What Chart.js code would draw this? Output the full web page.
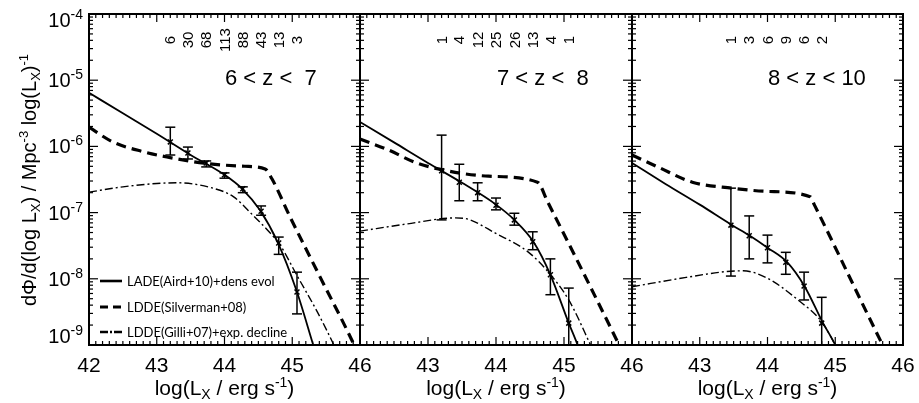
<!DOCTYPE html>
<html>
<head>
<meta charset="utf-8">
<script src="https://cdn.jsdelivr.net/npm/chart.js@4.4.1/dist/chart.umd.min.js"></script>
<style>
  html, body { margin: 0; padding: 0; background: #fff; }
  #wrap { position: relative; width: 919px; height: 403px; }
  #wrap canvas { position: absolute; left: 0; top: 0; }
</style>
</head>
<body>
<div id="wrap">
  <canvas id="p1" width="919" height="403"></canvas>
  <canvas id="p2" width="919" height="403"></canvas>
  <canvas id="p3" width="919" height="403"></canvas>
</div>
<script>
// axis ticks
const xTicks = [42, 43, 44, 45, 46];
const yTicks = [1e-4, 1e-5, 1e-6, 1e-7, 1e-8, 1e-9];

// bin centres, log(Lx)
const binsA = [43.2, 43.46, 43.73, 44.0, 44.27, 44.54, 44.8, 45.07];
const binsB = [43.46, 43.73, 44.0, 44.27, 44.54, 44.8];

// ---- 6 < z < 7 ----
const countsZ6 = [6, 30, 68, 113, 88, 43, 13, 3];
const phiZ6 = [1.17e-6, 7.94e-7, 5.62e-7, 3.72e-7, 2.29e-7, 1.05e-7, 3.47e-8, 6.31e-9];
const loZ6  = [7.41e-7, 6.46e-7, 4.90e-7, 3.31e-7, 2.0e-7, 9.12e-8, 2.34e-8, 2.95e-9];
const hiZ6  = [1.95e-6, 9.77e-7, 6.03e-7, 3.98e-7, 2.45e-7, 1.26e-7, 4.27e-8, 1.26e-8];

const ladeXZ6 = [42.0, 42.5, 43.0, 43.5, 44.0, 44.26, 44.52, 44.79, 45.06, 45.31, 45.4];
const ladeYZ6 = [6.46e-6, 3.16e-6, 1.55e-6, 7.41e-7, 3.72e-7, 2.29e-7, 1.10e-7, 3.47e-8, 6.76e-9, 1.0e-9, 5.0e-10];
const silvXZ6 = [42.0, 42.35, 42.8, 43.15, 43.74, 44.3, 44.6, 44.7, 44.97, 45.41, 45.9, 46.0];
const silvYZ6 = [1.95e-6, 1.17e-6, 8.32e-7, 6.92e-7, 5.50e-7, 5.01e-7, 4.57e-7, 3.24e-7, 8.51e-8, 1.07e-8, 1.07e-9, 6.3e-10];
const gilliXZ6 = [42.0, 42.5, 43.0, 43.3, 43.83, 44.13, 44.42, 44.63, 44.82, 45.07, 45.37, 45.6, 45.7];
const gilliYZ6 = [2.04e-7, 2.45e-7, 2.75e-7, 2.82e-7, 2.34e-7, 1.74e-7, 9.12e-8, 5.50e-8, 3.24e-8, 1.12e-8, 3.16e-9, 1.07e-9, 6.3e-10];

// ---- 7 < z < 8 ----
const countsZ7 = [1, 4, 12, 25, 26, 13, 4, 1];
const phiZ7 = [4.27e-7, 2.88e-7, 2.0e-7, 1.29e-7, 7.76e-8, 3.63e-8, 1.15e-8, 2.14e-9];
const loZ7  = [7.76e-8, 1.51e-7, 1.51e-7, 1.10e-7, 6.46e-8, 2.75e-8, 5.75e-9, 4.0e-10];
const hiZ7  = [1.48e-6, 5.37e-7, 2.82e-7, 1.66e-7, 9.77e-8, 5.13e-8, 2.0e-8, 7.24e-9];

const ladeXZ7 = [42.0, 42.5, 43.0, 43.5, 44.0, 44.27, 44.55, 44.8, 45.07, 45.2, 45.3];
const ladeYZ7 = [2.34e-6, 1.15e-6, 5.62e-7, 2.82e-7, 1.32e-7, 7.76e-8, 3.63e-8, 1.15e-8, 2.14e-9, 1.0e-9, 5.0e-10];
const silvXZ7 = [42.0, 42.41, 42.81, 43.15, 43.89, 44.61, 44.76, 45.81, 45.95];
const silvYZ7 = [1.29e-6, 8.91e-7, 5.75e-7, 4.57e-7, 3.55e-7, 2.88e-7, 1.45e-7, 1.0e-9, 5.0e-10];
const gilliXZ7 = [42.0, 42.7, 43.4, 43.59, 43.99, 44.48, 44.77, 45.07, 45.39, 45.5];
const gilliYZ7 = [5.25e-8, 6.76e-8, 8.32e-8, 7.94e-8, 4.90e-8, 2.51e-8, 1.26e-8, 4.79e-9, 1.0e-9, 5.62e-10];

// ---- 8 < z < 10 ----
const countsZ8 = [1, 3, 6, 9, 6, 2];
const phiZ8 = [6.46e-8, 4.47e-8, 2.95e-8, 1.78e-8, 7.76e-9, 2.14e-9];
const loZ8  = [1.10e-8, 2.0e-8, 1.74e-8, 1.17e-8, 4.79e-9, 4.0e-10];
const hiZ8  = [2.34e-7, 8.91e-8, 4.57e-8, 2.51e-8, 1.26e-8, 5.25e-9];

const ladeXZ8 = [42.0, 42.5, 43.0, 43.48, 43.74, 44.0, 44.29, 44.55, 44.82, 45.0, 45.1];
const ladeYZ8 = [5.62e-7, 2.69e-7, 1.32e-7, 6.46e-8, 4.47e-8, 2.95e-8, 1.78e-8, 7.59e-9, 2.14e-9, 1.0e-9, 5.62e-10];
const silvXZ8 = [42.0, 42.38, 42.89, 43.48, 44.0, 44.63, 44.69, 45.7, 45.85];
const silvYZ8 = [7.41e-7, 4.90e-7, 2.88e-7, 2.34e-7, 2.09e-7, 1.74e-7, 1.32e-7, 1.0e-9, 5.0e-10];
const gilliXZ8 = [42.0, 42.8, 43.4, 43.64, 44.0, 44.45, 44.8, 45.0, 45.1];
const gilliYZ8 = [7.59e-9, 1.05e-8, 1.29e-8, 1.32e-8, 1.02e-8, 4.79e-9, 2.24e-9, 1.0e-9, 6.3e-10];

const legendLabels = ['LADE(Aird+10)+dens evol', 'LDDE(Silverman+08)', 'LDDE(Gilli+07)+exp. decline'];

const FONT = '"Liberation Sans", Arial, sans-serif';
const LEG_FONT = 'Lato, "Open Sans", sans-serif';

const STYLE_LADE  = { borderWidth: 1.8, borderDash: [] };
const STYLE_SILV  = { borderWidth: 3.2, borderDash: [10, 6] };
const STYLE_GILLI = { borderWidth: 1.4, borderDash: [8, 3, 2, 3] };

function pts(xs, ys) {
    return xs.map((x, i) => ({ x: x, y: ys[i] }));
}

function curve(xs, ys, style) {
    return {
        data: pts(xs, ys),
        borderColor: '#000',
        borderWidth: style.borderWidth,
        borderDash: style.borderDash,
        pointRadius: 0,
        fill: false,
        cubicInterpolationMode: 'monotone'
    };
}

// text made of pieces: [text, size, dy]
function richText(ctx, parts, x, y, align) {
    let w = 0;
    parts.forEach(p => {
        ctx.font = p[1] + 'px ' + FONT;
        w += ctx.measureText(p[0]).width;
    });
    let cx = align === 'center' ? x - w / 2 : (align === 'right' ? x - w : x);
    parts.forEach(p => {
        ctx.font = p[1] + 'px ' + FONT;
        ctx.fillText(p[0], cx, y + p[2]);
        cx += ctx.measureText(p[0]).width;
    });
}

function seg(ctx, x1, y1, x2, y2) {
    ctx.beginPath();
    ctx.moveTo(x1, y1);
    ctx.lineTo(x2, y2);
    ctx.stroke();
}

function makePanel(id, p) {
    const decoPlugin = {
        id: 'deco_' + id,
        afterDatasetsDraw(chart) {
            const ctx = chart.ctx, a = chart.chartArea;
            const xs = chart.scales.x, ys = chart.scales.y;
            ctx.save();
            // error bars
            ctx.beginPath();
            ctx.rect(a.left, a.top, a.width, a.height);
            ctx.clip();
            ctx.strokeStyle = '#000';
            ctx.lineWidth = 1.5;
            p.bins.forEach((b, i) => {
                const px = xs.getPixelForValue(b);
                const y1 = ys.getPixelForValue(p.lo[i]);
                const y2 = ys.getPixelForValue(p.hi[i]);
                seg(ctx, px, y1, px, y2);
                seg(ctx, px - 5, y1, px + 5, y1);
                seg(ctx, px - 5, y2, px + 5, y2);
            });
            ctx.restore();
        },
        afterDraw(chart) {
            const ctx = chart.ctx, a = chart.chartArea;
            const xs = chart.scales.x, ys = chart.scales.y;
            ctx.save();
            ctx.strokeStyle = '#000';
            ctx.fillStyle = '#000';
            ctx.lineWidth = 1.2;
            // x ticks, top and bottom, minor every 0.1
            for (let k = xTicks[0] * 10; k <= xTicks[xTicks.length - 1] * 10; k++) {
                const px = xs.getPixelForValue(k / 10);
                const len = k % 10 === 0 ? 8 : 4;
                seg(ctx, px, a.bottom, px, a.bottom - len);
                seg(ctx, px, a.top, px, a.top + len);
            }
            // y ticks, left and right, log minors
            yTicks.forEach(t => {
                for (let m = 1; m < 10; m++) {
                    const v = t * m;
                    if (v > yTicks[0] * 1.0001) continue;
                    const py = ys.getPixelForValue(v);
                    const len = m === 1 ? 9 : 4;
                    seg(ctx, a.left, py, a.left + len, py);
                    seg(ctx, a.right, py, a.right - len, py);
                }
            });
            // frame
            ctx.lineWidth = 2;
            ctx.strokeRect(a.left, a.top, a.width, a.height);

            // x tick labels
            ctx.textBaseline = 'alphabetic';
            xTicks.forEach(t => {
                if (!p.first && t === xTicks[0]) return;
                richText(ctx, [[String(t), 21, 0]], xs.getPixelForValue(t), 372, 'center');
            });
            // x title
            richText(ctx, [['log(L', 21, 0], ['X', 14, 4], [' / erg s', 21, 0], ['-1', 14, -8], [')', 21, 0]],
                (a.left + a.right) / 2, 395, 'center');

            // redshift label
            ctx.font = '22px ' + FONT;
            ctx.textAlign = 'left';
            ctx.fillText(p.label, a.left + p.labelOffset, 85);

            // counts per bin, rotated
            ctx.font = '15px ' + FONT;
            ctx.textAlign = 'center';
            ctx.textBaseline = 'middle';
            p.counts.forEach((c, i) => {
                ctx.save();
                ctx.translate(xs.getPixelForValue(p.bins[i]), 40);
                ctx.rotate(-Math.PI / 2);
                ctx.fillText(String(c), 0, 1);
                ctx.restore();
            });

            if (p.first) {
                // y tick labels
                ctx.textAlign = 'left';
                ctx.textBaseline = 'alphabetic';
                yTicks.forEach(t => {
                    const e = Math.round(Math.log10(t));
                    let cy = ys.getPixelForValue(t);
                    cy = Math.min(Math.max(cy, a.top + 6), a.bottom - 9);
                    richText(ctx, [['10', 20, 0], [String(e), 14, -8]], 83, cy + 7, 'right');
                });
                // y title
                ctx.save();
                ctx.translate(36, 180);
                ctx.rotate(-Math.PI / 2);
                richText(ctx, [['d\u03A6/d(log L', 20, 0], ['X', 13, 4], [') / Mpc', 20, 0], ['-3', 13, -8],
                    [' log(L', 20, 0], ['X', 13, 4], [')', 20, 0], ['-1', 13, -8]], 0, 0, 'center');
                ctx.restore();

                // legend
                const legY = [281, 307, 332];
                const legDash = [[], [8, 5], [8, 2, 2, 2]];
                ctx.font = '13px ' + LEG_FONT;
                ctx.textAlign = 'left';
                ctx.textBaseline = 'middle';
                legendLabels.forEach((txt, i) => {
                    ctx.lineWidth = i === 1 ? 3.2 : 2.6;
                    ctx.setLineDash(legDash[i]);
                    seg(ctx, 100, legY[i], 122, legY[i]);
                    ctx.setLineDash([]);
                    ctx.fillText(txt, 127, legY[i] + 1);
                });
            }
            ctx.restore();
        }
    };

    return new Chart(document.getElementById(id), {
        type: 'line',
        data: {
            datasets: [
                curve(p.lade[0], p.lade[1], STYLE_LADE),
                curve(p.silv[0], p.silv[1], STYLE_SILV),
                curve(p.gilli[0], p.gilli[1], STYLE_GILLI),
                {
                    data: pts(p.bins, p.phi),
                    showLine: false,
                    pointStyle: 'crossRot',
                    pointRadius: 3.5,
                    pointBorderWidth: 1.5,
                    pointBorderColor: '#000',
                    pointBackgroundColor: '#000'
                }
            ]
        },
        options: {
            responsive: false,
            animation: false,
            events: [],
            layout: { padding: p.padding },
            plugins: { legend: { display: false }, tooltip: { enabled: false } },
            scales: {
                x: { type: 'linear', min: 42, max: 46, display: false },
                y: { type: 'logarithmic', min: 1e-9, max: 1e-4, display: false }
            }
        },
        plugins: [decoPlugin]
    });
}

makePanel('p1', {
    first: true, label: '6 < z <  7', labelOffset: 136,
    padding: { left: 89, right: 559, top: 14, bottom: 58 },
    bins: binsA, counts: countsZ6, phi: phiZ6, lo: loZ6, hi: hiZ6,
    lade: [ladeXZ6, ladeYZ6], silv: [silvXZ6, silvYZ6], gilli: [gilliXZ6, gilliYZ6]
});
makePanel('p2', {
    first: false, label: '7 < z <  8', labelOffset: 137,
    padding: { left: 360, right: 287, top: 14, bottom: 58 },
    bins: binsA, counts: countsZ7, phi: phiZ7, lo: loZ7, hi: hiZ7,
    lade: [ladeXZ7, ladeYZ7], silv: [silvXZ7, silvYZ7], gilli: [gilliXZ7, gilliYZ7]
});
makePanel('p3', {
    first: false, label: '8 < z < 10', labelOffset: 136,
    padding: { left: 632, right: 16, top: 14, bottom: 58 },
    bins: binsB, counts: countsZ8, phi: phiZ8, lo: loZ8, hi: hiZ8,
    lade: [ladeXZ8, ladeYZ8], silv: [silvXZ8, silvYZ8], gilli: [gilliXZ8, gilliYZ8]
});
</script>
</body>
</html>
